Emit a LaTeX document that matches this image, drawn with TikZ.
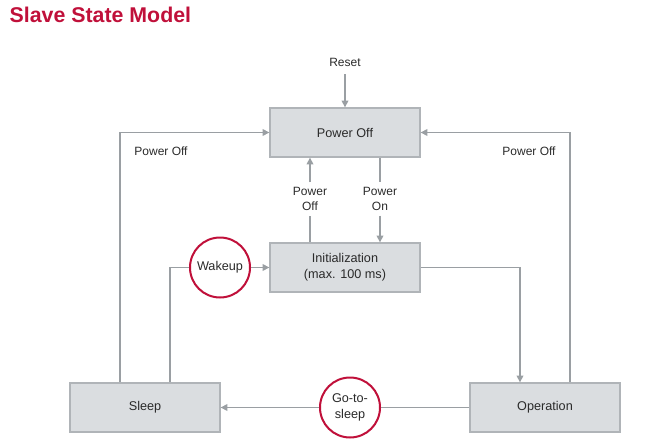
\documentclass[tikz,border=0pt]{standalone}
\usepackage{fontspec}
\setmainfont{Liberation Sans}
\usepackage{tikz}
\usetikzlibrary{arrows.meta,positioning}
\definecolor{scrimson}{HTML}{C0103A}
\definecolor{sgray}{HTML}{DADDE0}
\definecolor{sgrayd}{HTML}{B0B4B8}
\definecolor{sline}{HTML}{9A9FA3}
\definecolor{stext}{HTML}{2A2A2A}
\tikzset{
  % grey state box with a slightly darker stroke
  state/.style = {rectangle, draw=sgrayd, fill=sgray, line width=1pt,
                  minimum width=112.5pt, minimum height=36.75pt, align=center,
                  font=\fontsize{9.5}{12}\selectfont, text=stext},
  event/.style = {circle, draw=scrimson, fill=white, line width=1.5pt,
                  minimum size=45pt, inner sep=0pt, align=center,
                  font=\fontsize{9.5}{12}\selectfont, text=stext},
  lbl/.style   = {font=\fontsize{9}{11.5}\selectfont, text=stext, align=center},
  wire/.style  = {sline, line width=1pt},
  arr/.style   = {-{Triangle[length=5pt,width=5pt]}, sline, line width=1pt},
}
\begin{document}
\begin{tikzpicture}[x=0.75pt,y=-0.75pt]
\useasboundingbox (0,0) rectangle (662,447);
\node[anchor=west, font=\fontsize{16}{19}\selectfont\bfseries, text=scrimson] (title) at (5,15) {Slave State Model};
% states
\node[state] (off)   at (345,132.5) {Power Off};
\node[state] (init)  at (345,267.5) {Initialization\\(max. 100 ms)};
\node[state] (sleep) at (145,407.5) {Sleep};
\node[state] (oper)  at (545,407.5) {Operation};
% events
\node[event] (wake) at (220,267.5) {Wakeup};
\node[event] (gts)  at (350,407.5) {Go-to-\\sleep};
% labels
\node[lbl, inner sep=6pt] (reset) at (345,62) {Reset};
\node[lbl] (pwoff) at (310,199) {Power\\Off};
\node[lbl] (pwon)  at (380,199) {Power\\On};
\node[lbl] (offl)  at (161,151) {Power Off};
\node[lbl] (offr)  at (529,151) {Power Off};
% connectors
\draw[arr] (reset) -- (off);
\draw[wire] (pwoff.south |- init.north) -- (pwoff.south);
\draw[arr] (pwoff.north) -- (pwoff.north |- off.south);
\draw[wire] (pwon.north |- off.south) -- (pwon.north);
\draw[arr] (pwon.south) -- (pwon.south |- init.north);
\draw[arr] ([xshift=-18.75pt]sleep.north) |- (off.west);
\draw[arr] ([xshift=18.75pt]oper.north) |- (off.east);
\draw[wire] ([xshift=18.75pt]sleep.north) |- (wake.west);
\draw[arr] (wake) -- (init);
\draw[arr] (init.east) -| ([xshift=-18.75pt]oper.north);
\draw[wire] (oper) -- (gts);
\draw[arr] (gts) -- (sleep);
\end{tikzpicture}
\end{document}
